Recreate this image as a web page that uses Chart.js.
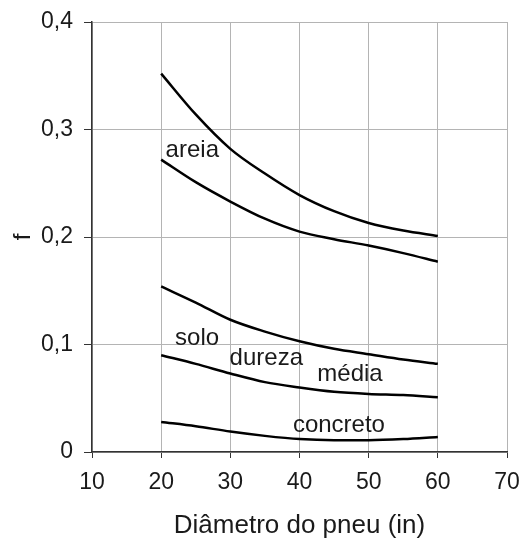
<!DOCTYPE html>
<html>
<head>
<meta charset="utf-8">
<script src="https://cdn.jsdelivr.net/npm/chart.js@4"></script>
<style>
  html, body { margin: 0; padding: 0; background: #fff; }
  #grafico { display: block; }
</style>
</head>
<body>
<canvas id="grafico" width="525" height="539"></canvas>
<script>
// Diâmetro do pneu (in) - mesmos pontos para todas as curvas
const diametros = [20, 25, 30, 35, 40, 45, 50, 55, 60];

// coeficiente f
const areiaSup   = [0.352, 0.314, 0.282, 0.259, 0.239, 0.224, 0.213, 0.206, 0.201];
const areiaInf   = [0.272, 0.251, 0.233, 0.217, 0.205, 0.198, 0.192, 0.185, 0.177];
const soloSup    = [0.154, 0.139, 0.123, 0.112, 0.103, 0.096, 0.091, 0.086, 0.082];
const soloInf    = [0.090, 0.082, 0.073, 0.065, 0.060, 0.056, 0.054, 0.053, 0.051];
const concreto   = [0.028, 0.024, 0.019, 0.015, 0.012, 0.011, 0.011, 0.012, 0.014];

// rotulos escritos sobre as curvas (posição em unidades do gráfico)
const rotulos  = ['areia', 'solo', 'dureza', 'média', 'concreto'];
const rotuloX  = [24.5, 25.2, 35.2, 47.3, 45.7];
const rotuloY  = [0.281, 0.106, 0.087, 0.0726, 0.0251];

const ticksX = [10, 20, 30, 40, 50, 60, 70];
const ticksY = [0, 0.1, 0.2, 0.3, 0.4];

const fonte = '"Liberation Sans", Arial, sans-serif';

function pontos(valores) {
    return diametros.map((d, i) => ({ x: d, y: valores[i] }));
}

function serie(valores) {
    return {
        data: pontos(valores),
        borderColor: '#000',
        borderWidth: 2.5,
        pointRadius: 0,
        cubicInterpolationMode: 'monotone',
        fill: false
    };
}

// escreve os nomes dos tipos de solo dentro do gráfico
const pluginRotulos = {
    id: 'rotulos',
    afterDatasetsDraw(chart) {
        const ctx = chart.ctx;
        const sx = chart.scales.x;
        const sy = chart.scales.y;
        ctx.save();
        ctx.font = '24px ' + fonte;
        ctx.fillStyle = '#1a1a1a';
        ctx.textAlign = 'center';
        ctx.textBaseline = 'middle';
        rotulos.forEach((txt, i) => {
            ctx.fillText(txt, sx.getPixelForValue(rotuloX[i]), sy.getPixelForValue(rotuloY[i]));
        });
        ctx.restore();
    }
};

new Chart(document.getElementById('grafico'), {
    type: 'line',
    data: {
        datasets: [serie(areiaSup), serie(areiaInf), serie(soloSup), serie(soloInf), serie(concreto)]
    },
    options: {
        responsive: false,
        devicePixelRatio: 1,
        animation: false,
        layout: { padding: { top: 22, right: 18, left: 0, bottom: 0 } },
        plugins: {
            legend: { display: false },
            tooltip: { enabled: false }
        },
        scales: {
            x: {
                type: 'linear',
                min: 10,
                max: 70,
                afterBuildTicks: (scale) => { scale.ticks = ticksX.map(v => ({ value: v })); },
                afterFit: (scale) => {
                    scale.height = 87;
                    scale.paddingLeft = 0;
                    scale.paddingRight = 0;
                },
                grid: { color: '#b4b4b4', lineWidth: 1, tickColor: '#333', tickLength: 6 },
                border: { color: '#333', width: 1.5 },
                ticks: { color: '#1a1a1a', font: { family: fonte, size: 23 }, padding: 11, maxRotation: 0 },
                title: {
                    display: true,
                    text: 'Diâmetro do pneu (in)',
                    color: '#1a1a1a',
                    font: { family: fonte, size: 26, lineHeight: 1.0 },
                    padding: 0
                }
            },
            y: {
                min: 0,
                max: 0.4,
                afterBuildTicks: (scale) => { scale.ticks = ticksY.map(v => ({ value: v })); },
                afterFit: (scale) => {
                    scale.width = 92;
                    scale.paddingTop = 0;
                    scale.paddingBottom = 0;
                },
                grid: { color: '#b4b4b4', lineWidth: 1, tickColor: '#333', tickLength: 8 },
                border: { color: '#333', width: 1.5 },
                ticks: {
                    color: '#1a1a1a',
                    font: { family: fonte, size: 23 },
                    padding: 11,
                    callback: (v) => v === 0 ? '0' : v.toFixed(1).replace('.', ',')
                },
                title: {
                    display: true,
                    text: 'f',
                    color: '#1a1a1a',
                    font: { family: fonte, size: 24 },
                    padding: { top: 9, bottom: 0 }
                }
            }
        }
    },
    plugins: [pluginRotulos]
});
</script>
</body>
</html>
